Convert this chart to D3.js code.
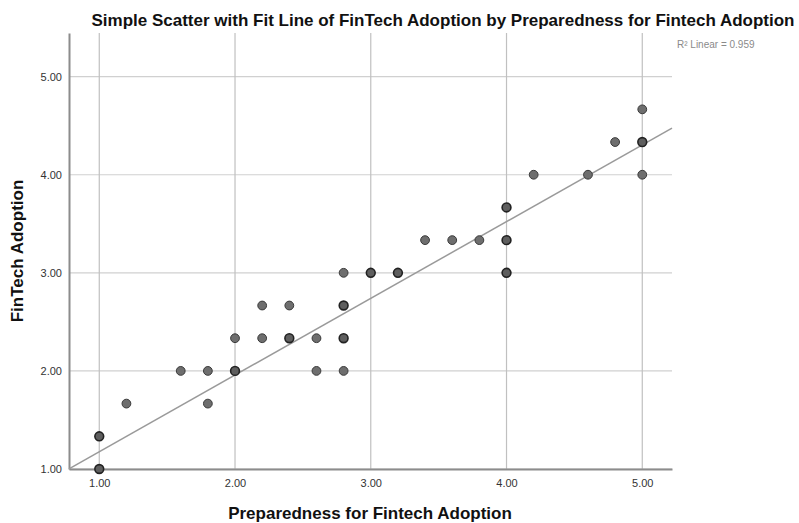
<!DOCTYPE html>
<html>
<head>
<meta charset="utf-8">
<script src="https://cdn.jsdelivr.net/npm/d3@7"></script>
<style>
  html, body { margin: 0; padding: 0; background: #fff; }
  svg { display: block; font-family: "Liberation Sans", Arial, sans-serif; }
</style>
</head>
<body>
<svg id="chart" width="799" height="523"></svg>
<script>
// Preparedness (x) vs FinTech Adoption (y); count = cases stacked on one spot
const preparedness = [1.0, 1.0, 1.2, 1.6, 1.8, 1.8, 2.0, 2.0, 2.2, 2.2, 2.4, 2.4, 2.6, 2.6,
  2.8, 2.8, 2.8, 2.8, 3.0, 3.2, 3.4, 3.6, 3.8, 4.0, 4.0, 4.0, 4.2, 4.6, 4.8, 5.0, 5.0, 5.0];
const adoption = [1.0, 4/3, 5/3, 2.0, 2.0, 5/3, 2.0, 7/3, 8/3, 7/3, 8/3, 7/3, 7/3, 2.0,
  3.0, 8/3, 7/3, 2.0, 3.0, 3.0, 10/3, 10/3, 10/3, 11/3, 10/3, 3.0, 4.0, 4.0, 13/3, 14/3, 13/3, 4.0];
const count = [2, 2, 1, 1, 1, 1, 2, 1, 1, 1, 1, 2, 1, 1,
  1, 2, 2, 1, 2, 2, 1, 1, 1, 2, 2, 2, 1, 1, 1, 1, 2, 1];

const tickValues = [1, 2, 3, 4, 5];
const xDomain = [0.777, 5.219];
const yDomain = [1.0, 5.445];

// Linear fit: adoption = intercept + slope * preparedness
const fitIntercept = 0.394;
const fitSlope = 0.782;
const rSquared = 0.959;

const titleText = "Simple Scatter with Fit Line of FinTech Adoption by Preparedness for Fintech Adoption";
const xTitle = "Preparedness for Fintech Adoption";
const yTitle = "FinTech Adoption";

const svg = d3.select("#chart");
const plotLeft = 69, plotRight = 672, plotTop = 33, plotBottom = 469;

const x = d3.scaleLinear().domain(xDomain).range([plotLeft, plotRight]);
const y = d3.scaleLinear().domain(yDomain).range([plotBottom, plotTop]);

// grid lines
svg.append("g").selectAll("line").data(tickValues).join("line")
  .attr("x1", plotLeft).attr("x2", plotRight)
  .attr("y1", d => y(d)).attr("y2", d => y(d))
  .attr("stroke", "#d0d0d0").attr("stroke-width", 1.2);
svg.append("g").selectAll("line").data(tickValues).join("line")
  .attr("x1", d => x(d)).attr("x2", d => x(d))
  .attr("y1", plotTop).attr("y2", plotBottom)
  .attr("stroke", "#c0c0c0").attr("stroke-width", 1.2);

// axes
const xAxis = d3.axisBottom(x).tickValues(tickValues).tickFormat(d3.format(".2f")).tickSize(0).tickPadding(10);
const yAxis = d3.axisLeft(y).tickValues(tickValues).tickFormat(d3.format(".2f")).tickSize(0).tickPadding(7);

const gx = svg.append("g").attr("transform", `translate(0,${plotBottom})`).call(xAxis);
const gy = svg.append("g").attr("transform", `translate(${plotLeft},0)`).call(yAxis);
[gx, gy].forEach(g => {
  g.select(".domain").attr("stroke", "#8c8c8c").attr("stroke-width", 2);
  g.selectAll("text").attr("font-size", 11).attr("fill", "#333")
    .attr("font-family", "'Liberation Sans', Arial, sans-serif");
});

// fit line across the plotting range
const fitPts = xDomain.map(v => [v, fitIntercept + fitSlope * v]);
svg.append("path")
  .datum(fitPts)
  .attr("d", d3.line().x(d => x(d[0])).y(d => y(d[1])))
  .attr("fill", "none").attr("stroke", "#9a9a9a").attr("stroke-width", 1.5);

// points
const pts = preparedness.map((v, i) => ({ px: v, py: adoption[i], n: count[i] }));
svg.append("g").selectAll("circle").data(pts).join("circle")
  .attr("cx", d => x(d.px)).attr("cy", d => y(d.py)).attr("r", 4.4)
  .attr("fill", d => d.n > 1 ? "#5e5e5e" : "#6e6e6e")
  .attr("stroke", d => d.n > 1 ? "#222" : "#3a3a3a")
  .attr("stroke-width", d => d.n > 1 ? 1.6 : 1);

// R squared annotation
svg.append("text")
  .attr("x", 677).attr("y", 48)
  .attr("font-size", 10).attr("fill", "#8a8a8a")
  .text(`R\u00B2 Linear = ${rSquared.toFixed(3)}`);

// titles
svg.append("text")
  .attr("x", 443).attr("y", 26).attr("text-anchor", "middle")
  .attr("font-size", 17).attr("font-weight", "bold").attr("fill", "#111")
  .text(titleText);
svg.append("text")
  .attr("x", 370).attr("y", 519).attr("text-anchor", "middle")
  .attr("font-size", 17).attr("font-weight", "bold").attr("fill", "#111")
  .text(xTitle);
svg.append("text")
  .attr("transform", "translate(23,251) rotate(-90)").attr("text-anchor", "middle")
  .attr("font-size", 17).attr("font-weight", "bold").attr("fill", "#111")
  .text(yTitle);
</script>
</body>
</html>
